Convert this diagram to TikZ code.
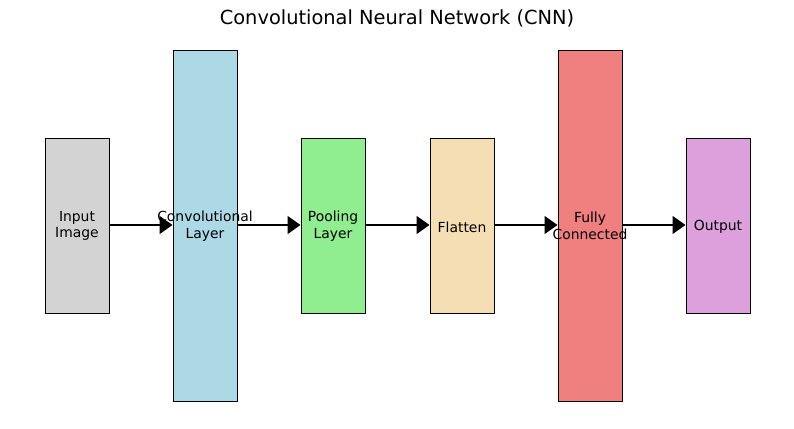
\documentclass[tikz,border=0pt]{standalone}
\usepackage{fontspec}
\setmainfont{DejaVu Sans}
\usetikzlibrary{arrows.meta}
\definecolor{cgray}{HTML}{D3D3D3}
\definecolor{cblue}{HTML}{ADD8E6}
\definecolor{cgreen}{HTML}{90EE90}
\definecolor{cwheat}{HTML}{F5DEB3}
\definecolor{ccoral}{HTML}{F08080}
\definecolor{cplum}{HTML}{DDA0DD}
\tikzset{
  layerbox/.style={draw=black, line width=1pt, minimum width=64pt, inner sep=0pt},
  shortbox/.style={layerbox, minimum height=175pt},
  tallbox/.style={layerbox, minimum height=350pt},
  lbl/.style={font=\fontsize{13.9}{16.5}\selectfont, align=center, inner sep=0pt},
  flow/.style={line width=1.5pt, -{Triangle[length=13pt,width=18pt]}},
}
\begin{document}
\begin{tikzpicture}[x=1pt,y=-1pt]
\useasboundingbox (0,0) rectangle (794,428);
\node[font=\fontsize{19.4}{23}\selectfont] (title) at (397,18) {Convolutional Neural Network (CNN)};
\node[shortbox, fill=cgray] (b1) at (77,225.5) {};
\node[tallbox, fill=cblue] (b2) at (205,226) {};
\node[shortbox, fill=cgreen] (b3) at (333,225.5) {};
\node[shortbox, fill=cwheat] (b4) at (462,225.5) {};
\node[tallbox, fill=ccoral] (b5) at (590,226) {};
\node[shortbox, fill=cplum] (b6) at (718,225.5) {};
\draw[flow] (b1.east |- 0,225) -- (b2.west |- 0,225);
\draw[flow] (b2.east |- 0,225) -- (b3.west |- 0,225);
\draw[flow] (b3.east |- 0,225) -- (b4.west |- 0,225);
\draw[flow] (b4.east |- 0,225) -- (b5.west |- 0,225);
\draw[flow] (b5.east |- 0,225) -- (b6.west |- 0,225);
\node[lbl] (t1) at (77,226) {Input\\Image};
\node[lbl] (t2) at (205,226) {Convolutional\\Layer};
\node[lbl] (t3) at (333,226) {Pooling\\Layer};
\node[lbl] (t4) at (462,227) {Flatten};
\node[lbl] (t5) at (590,226) {Fully\\Connected};
\node[lbl] (t6) at (718,227) {Output};
\end{tikzpicture}
\end{document}
